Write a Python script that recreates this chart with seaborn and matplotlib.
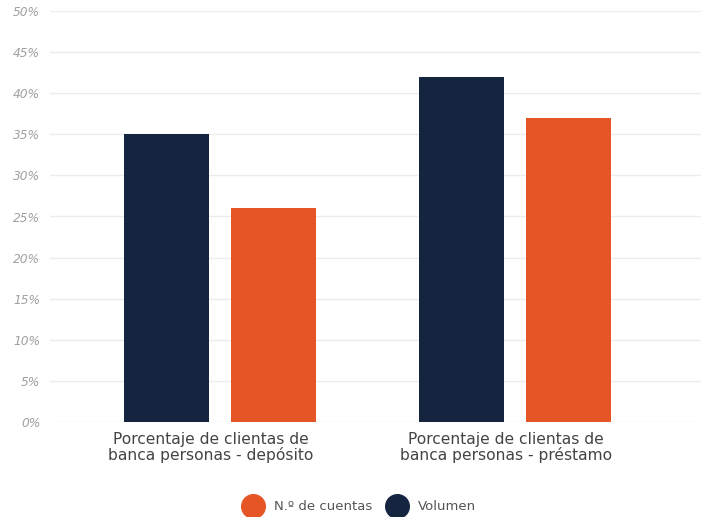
import matplotlib
matplotlib.use("Agg")
import matplotlib.pyplot as plt
import matplotlib.transforms as mtransforms
import seaborn as sns
import pandas as pd
from matplotlib.lines import Line2D
from matplotlib.ticker import MultipleLocator, FuncFormatter

categories = ["Porcentaje de clientas de\nbanca personas - depósito",
              "Porcentaje de clientas de\nbanca personas - préstamo"]
series_names = ["Volumen", "N.º de cuentas"]
volumen = [35, 42]
cuentas = [26, 37]
colors = {"Volumen": "#15243f", "N.º de cuentas": "#e65526"}

df = pd.DataFrame({
    "cat": categories * 2,
    "serie": [series_names[0]] * 2 + [series_names[1]] * 2,
    "val": volumen + cuentas,
})

sns.set_theme(style="white")
plt.rcParams['font.family'] = ['DejaVu Sans']

fig = plt.figure(figsize=(7.08, 5.17), dpi=100)
ax = fig.add_axes([50/708, 1-422/517, 651/708, 411/517])

sns.barplot(data=df, x="cat", y="val", hue="serie", hue_order=series_names,
            order=categories, palette=colors, width=0.725, gap=0.206,
            saturation=1, linewidth=0, ax=ax, legend=False)

ax.set_xlim(-0.576, 1.631)
ax.set_ylim(0, 50)
ax.yaxis.set_major_locator(MultipleLocator(5))
ax.yaxis.set_major_formatter(FuncFormatter(lambda v, p: f"{int(v)}%"))
ax.grid(axis="y", color="#ececec", linewidth=1)
ax.set_axisbelow(True)
for s in ax.spines.values():
    s.set_visible(False)
ax.set_xlabel("")
ax.set_ylabel("")
ax.tick_params(axis="y", length=0, pad=7, labelsize=8.8, labelcolor="#a0a0a0")
for t in ax.get_yticklabels():
    t.set_fontstyle("italic")
ax.tick_params(axis="x", length=0, pad=7, labelsize=11.2, labelcolor="#444444")
shift = mtransforms.ScaledTranslation(-9/100, 0, fig.dpi_scale_trans)
for t in ax.get_xticklabels():
    t.set_transform(t.get_transform() + shift)
    t.set_linespacing(1.05)

handles = [Line2D([], [], marker="o", linestyle="", markersize=17,
                  markerfacecolor=colors[n], markeredgecolor=colors[n], label=n)
           for n in ["N.º de cuentas", "Volumen"]]
fig.legend(handles=handles, loc="center", bbox_to_anchor=(358/708, 1-507/517),
           ncol=2, frameon=False, fontsize=9.5, labelcolor="#555555",
           handletextpad=0.6, columnspacing=0.9)

fig.savefig("out.png", dpi=100)
